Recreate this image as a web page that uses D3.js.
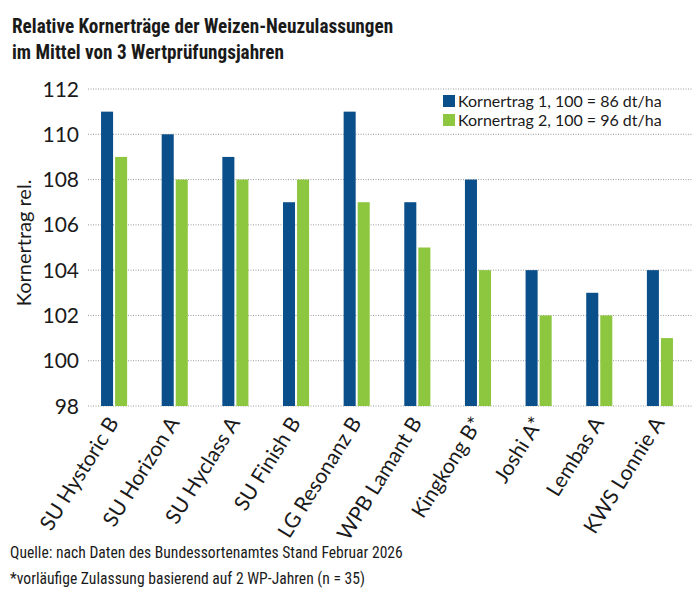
<!DOCTYPE html>
<html>
<head>
<meta charset="utf-8">
<script src="https://cdn.jsdelivr.net/npm/d3@7"></script>
<style>
	body { margin: 0; background: #fff; }
	text { font-family: 'Liberation Sans Narrow', 'Roboto Condensed', Lato, sans-serif; fill: #1a1a1a; }
	.cond { font-family: Lato, 'Open Sans', sans-serif; }
</style>
</head>
<body>
<svg id="chart" width="700" height="595"></svg>
<script>
const sorten = ['SU Hystoric B', 'SU Horizon A', 'SU Hyclass A', 'SU Finish B', 'LG Resonanz B',
	'WPB Lamant B', 'Kingkong B*', 'Joshi A*', 'Lembas A', 'KWS Lonnie A']
const ertrag1 = [111, 110, 109, 107, 111, 107, 108, 104, 103, 104]
const ertrag2 = [109, 108, 108, 108, 107, 105, 104, 102, 102, 101]
const serien = ['Kornertrag 1, 100 = 86 dt/ha', 'Kornertrag 2, 100 = 96 dt/ha']
const yTicks = [98, 100, 102, 104, 106, 108, 110, 112]

const farben = ['#0b4f8a', '#8dc63f']

const svg = d3.select('#chart')

const x = d3.scaleBand()
	.domain(sorten)
	.range([88, 686])
	.paddingInner(0.57)
	.paddingOuter(0.215)

const x1 = d3.scaleBand()
	.domain([0, 1])
	.range([0, x.bandwidth()])
	.paddingInner(0.143)

const y = d3.scaleLinear()
	.domain([98, 112])
	.range([406, 89])

// gitterlinien
svg.append('g')
	.selectAll('line')
	.data(yTicks)
	.enter()
	.append('line')
	.attr('x1', 88)
	.attr('x2', 692)
	.attr('y1', d => y(d))
	.attr('y2', d => y(d))
	.style('stroke', '#9a9a9a')
	.style('stroke-width', 1)
	.style('stroke-dasharray', '1,1.5')

const yAxis = svg.append('g')
	.attr('transform', 'translate(79,0)')
	.call(d3.axisLeft(y).tickValues(yTicks).tickSize(0).tickPadding(0))
yAxis.select('.domain').remove()
yAxis.selectAll('text')
	.attr('class', 'cond')
	.style('font-size', '21px')
	.style('fill', '#1a1a1a')
	.attr('dy', '0.34em')

const gruppen = svg.append('g')
	.selectAll('g')
	.data(sorten)
	.enter()
	.append('g')
	.attr('transform', d => `translate(${x(d)},0)`)

gruppen.selectAll('rect')
	.data((d, i) => [ertrag1[i], ertrag2[i]])
	.enter()
	.append('rect')
	.attr('x', (d, j) => x1(j))
	.attr('width', x1.bandwidth())
	.attr('y', d => y(d))
	.attr('height', d => y(98) - y(d))
	.style('fill', (d, j) => farben[j])

// x-beschriftung
svg.append('g')
	.selectAll('text')
	.data(sorten)
	.enter()
	.append('text')
	.attr('class', 'cond')
	.attr('transform', d => `translate(${x(d) + x.bandwidth() / 2 - 7},415) rotate(-58)`)
	.attr('text-anchor', 'end')
	.attr('dy', '0.7em')
	.style('font-size', '21px')
	.text(d => d)

svg.append('text')
	.attr('class', 'cond')
	.attr('transform', 'translate(31,243) rotate(-90)')
	.attr('text-anchor', 'middle')
	.style('font-size', '20px')
	.text('Kornertrag rel.')

// legende
const legende = svg.append('g')
	.selectAll('g')
	.data(serien)
	.enter()
	.append('g')
	.attr('transform', (d, i) => `translate(443,${95 + i * 19})`)

legende.append('rect')
	.attr('width', 12)
	.attr('height', 12)
	.style('fill', (d, i) => farben[i])

legende.append('text')
	.attr('class', 'cond')
	.attr('x', 15)
	.attr('y', 11.5)
	.style('font-size', '16px')
	.text(d => d)

// titel
const titel = svg.append('g')
	.attr('transform', 'translate(12,0) scale(0.96,1)')
titel.append('text')
	.attr('y', 33)
	.style('font-size', '20px')
	.style('font-weight', 'bold')
	.text('Relative Kornerträge der Weizen-Neuzulassungen')
titel.append('text')
	.attr('y', 59)
	.style('font-size', '20px')
	.style('font-weight', 'bold')
	.text('im Mittel von 3 Wertprüfungsjahren')

const fuss = svg.append('g')
	.attr('transform', 'translate(10,0) scale(0.92,1)')
fuss.append('text')
	.attr('y', 558)
	.style('font-size', '17px')
	.text('Quelle: nach Daten des Bundessortenamtes Stand Februar 2026')
fuss.append('text')
	.attr('y', 584)
	.style('font-size', '17px')
	.text('*vorläufige Zulassung basierend auf 2 WP-Jahren (n = 35)')
</script>
</body>
</html>
